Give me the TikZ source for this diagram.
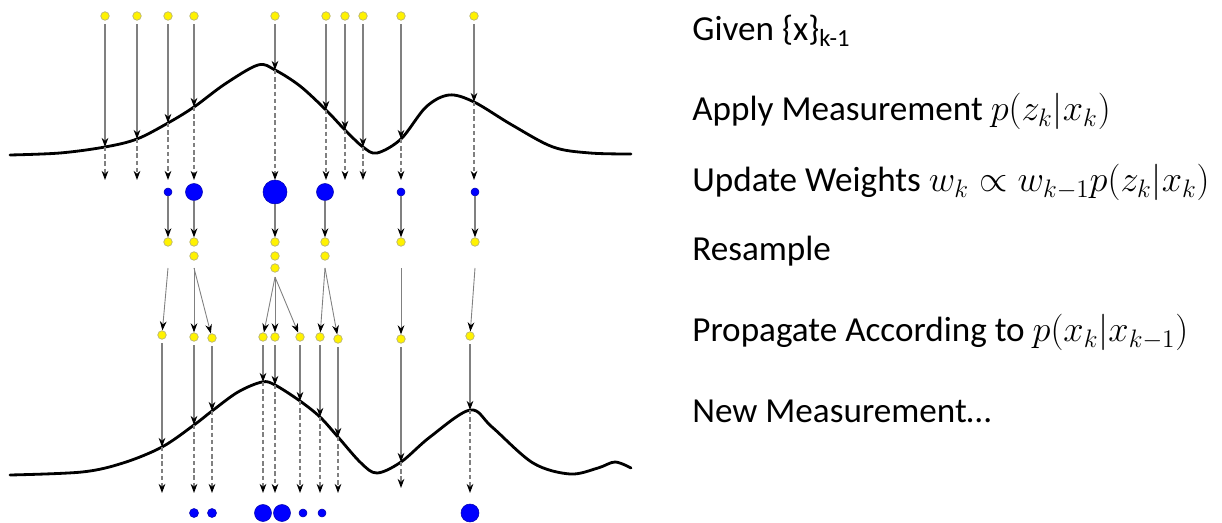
\documentclass[tikz,border=0pt]{standalone}
\usepackage{fontspec}
\setmainfont{Carlito}
\usetikzlibrary{arrows.meta}

\tikzset{
  particle/.style={circle,draw=yellow!55!black!70,fill=yellow,line width=0.4pt,inner sep=0pt,minimum size=0.17cm},
  weight/.style={circle,draw=blue!70!black,fill=blue,line width=0.3pt,inner sep=0pt},
  solidarrow/.style={draw=black!50,line width=0.6pt,-{Stealth[length=5.2pt,width=3.8pt,color=black]}},
  dasharrow/.style={solidarrow,dash pattern=on 2.5pt off 1.6pt},
  density/.style={line width=1.6pt,line join=round,line cap=round},
  steptext/.style={anchor=base west,inner sep=0pt,font=\fontsize{20}{24}\selectfont}
}

\begin{document}
\begin{tikzpicture}[x=0.02cm,y=-0.02cm]
  \useasboundingbox (0,0) rectangle (1222,523);

  % density at step k
  \draw[density] plot[smooth,tension=0.55] coordinates {
    (10,155) (60,153) (105,147) (137,139) (168,123) (194,107) (225,84) (258,65)
    (275,70) (300,86) (326,110) (345,130) (363,147) (377,153) (401,139) (426,107)
    (449,95) (474,102) (512,125) (553,147) (590,153) (631,154)};

  % particles {x}_{k-1} and measurement
  \foreach \i/\x/\yc in {1/105/147,2/137/139,3/168/123,4/194/107,5/275/70,
                         6/326/110,7/345/130,8/363/147,9/401/139,10/474/102}{
    \node[particle] (a\i) at (\x,16) {};
    \coordinate (c\i) at (\x,\yc);
    \coordinate (e\i) at (\x,180);
    \draw[solidarrow,shorten <=2pt] (a\i) -- (c\i);
    \draw[dasharrow] (c\i) -- (e\i);
  }

  % weights
  \foreach \i/\x/\d in {3/168/0.16cm,4/194/0.34cm,5/275/0.48cm,6/325/0.34cm,9/401/0.16cm,10/475/0.16cm}{
    \node[weight,minimum size=\d] (w\i) at (\x,192) {};
  }

  % resample
  \node[particle] (r3) at (168,242) {};
  \node[particle] (r4) at (194,242) {};
  \node[particle] (r4b) at (194,256) {};
  \node[particle] (r5) at (275,242) {};
  \node[particle] (r5b) at (275,256) {};
  \node[particle] (r5c) at (275,268) {};
  \node[particle] (r6) at (325,242) {};
  \node[particle] (r6b) at (325,256) {};
  \node[particle] (r9) at (401,242) {};
  \node[particle] (r10) at (475,242) {};
  \foreach \i in {3,4,5,6,9,10}
    \draw[solidarrow] (w\i) -- (r\i);

  % propagate
  \foreach \i/\x/\y in {3/168/268,4/194/268,5/275/277,6/325/268,9/401/268,10/475/268}
    \coordinate (s\i) at (\x,\y);
  \foreach \i/\x/\y in {1/162/335,2/194/337,3/212/338,4/263/337,5/275/337,
                        6/300/337,7/320/337,8/338/339,9/401/339,10/470/336}
    \node[particle] (p\i) at (\x,\y) {};
  \foreach \a/\b in {s3/p1,s4/p2,s4/p3,s5/p4,s5/p5,s5/p6,s6/p7,s6/p8,s9/p9,s10/p10}
    \draw[solidarrow,line width=0.5pt] (\a) -- (\b);

  % new measurement
  \draw[density] plot[smooth,tension=0.55] coordinates {
    (10,475) (82,472) (123,463) (162,447) (194,425) (212,411) (238,392) (262,382)
    (275,385) (300,401) (320,417) (338,437) (361,463) (377,473) (401,462) (430,437)
    (470,410) (492,427) (533,463) (570,474) (598,468) (615,462) (631,468)};
  \foreach \i/\x/\yc/\ye in {1/162/447/493,2/194/425/493,3/212/411/493,4/263/382/493,
                             5/275/385/493,6/300/401/493,7/320/417/493,8/338/437/493,
                             9/401/462/488,10/470/410/493}{
    \coordinate (d\i) at (\x,\yc);
    \coordinate (f\i) at (\x,\ye);
    \draw[solidarrow,shorten <=2pt] (p\i) -- (d\i);
    \draw[dasharrow] (d\i) -- (f\i);
  }
  \foreach \i/\x/\d in {2/194/0.18cm,3/212/0.18cm,4/263/0.34cm,5/282/0.34cm,
                        6/303/0.16cm,7/322/0.16cm,10/470/0.36cm}{
    \node[weight,minimum size=\d] (v\i) at (\x,513) {};
  }

  % steps
  \node[steptext] (given) at (692,40.7) {Given \{x\}\textsubscript{k-1}};
  \node[steptext] (apply) at (692,120.7) {Apply Measurement $p(z_k|x_k)$};
  \node[steptext] (update) at (692,191.7) {Update Weights $w_k \propto w_{k-1}p(z_k|x_k)$};
  \node[steptext] (resample) at (692,260) {Resample};
  \node[steptext] (propagate) at (692,341.7) {Propagate According to $p(x_k|x_{k-1})$};
  \node[steptext] (newmeas) at (692,422.7) {New Measurement\dots};
\end{tikzpicture}
\end{document}
